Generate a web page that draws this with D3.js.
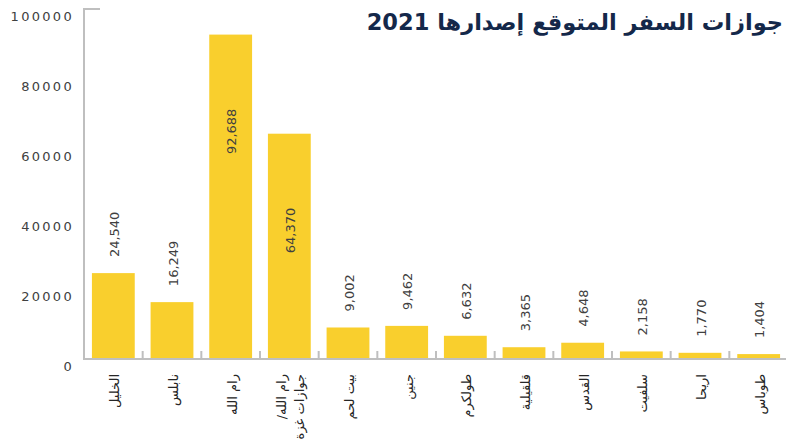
<!DOCTYPE html>
<html>
<meta charset="utf-8">
<head>
  <title>جوازات السفر المتوقع إصدارها 2021</title>
</head>
<style>
body { margin: 0; background: #fff; }
svg { display: block; }
.axis-line { stroke: #bfbfbf; stroke-width: 2px; fill: none; }
.ytick { font: 13px "DejaVu Sans", sans-serif; fill: #404040; letter-spacing: 2.3px; }
.val { font: 13px "DejaVu Sans", sans-serif; fill: #404040; }
.cat { font: 13px "DejaVu Sans", sans-serif; fill: #262626; }
.title { font: bold 22.5px "DejaVu Sans", sans-serif; fill: #14284a; }
</style>
<body>
<script src="https://cdnjs.cloudflare.com/ajax/libs/d3/7.8.5/d3.min.js"></script>
<script>

var categories = ["الخليل", "نابلس", "رام الله", "رام الله/\u200F|جوازات غزة", "بيت لحم", "جنين",
                  "طولكرم", "قلقيلية", "القدس", "سلفيت", "اريحا", "طوباس"];
var values = [24540, 16249, 92688, 64370, 9002, 9462, 6632, 3365, 4648, 2158, 1770, 1404];
var yTicks = [0, 20000, 40000, 60000, 80000, 100000];
var title = "جوازات السفر المتوقع إصدارها 2021";

var width = 786, height = 441;

var svg = d3.select("body").append("svg")
    .attr("width", width)
    .attr("height", height);

var x = d3.scaleBand()
    .domain(categories)
    .range([84, 788])
    .paddingInner(0.27)
    .paddingOuter(0.135);

var y = d3.scaleLinear()
    .domain([0, 100000])
    .range([359, 9]);

// bars
svg.append("g").selectAll("rect")
  .data(values)
  .enter().append("rect")
    .attr("x", function(d, i) { return x(categories[i]); })
    .attr("y", function(d) { return y(d); })
    .attr("width", x.bandwidth())
    .attr("height", function(d) { return y(0) - y(d); })
    .attr("fill", "#f9cf2d");

// axes
svg.append("path").attr("class", "axis-line")
    .attr("d", "M100," + y(100000) + "H84V" + y(0) + "H" + width);

var bounds = categories.map(function(c) { return x(c) - x.step() * x.paddingInner() / 2; });
svg.append("g").selectAll("line")
  .data(bounds.slice(1))
  .enter().append("line")
    .attr("class", "axis-line")
    .attr("x1", function(d) { return d; })
    .attr("x2", function(d) { return d; })
    .attr("y1", y(0) - 8)
    .attr("y2", y(0));

svg.append("g").selectAll("text")
  .data(yTicks)
  .enter().append("text")
    .attr("class", "ytick")
    .attr("x", 74)
    .attr("y", function(d) { return y(d) + 7; })
    .attr("dy", "0.35em")
    .attr("text-anchor", "end")
    .text(function(d) { return d; });

// value labels
var fmt = d3.format(",");
svg.append("g").selectAll("text")
  .data(values)
  .enter().append("text")
    .attr("class", "val")
    .attr("transform", function(d, i) {
      var cx = x(categories[i]) + x.bandwidth() / 2 + 1;
      var ty = d > 50000 ? y(d) + 74 : y(d) - 16;
      return "translate(" + cx + "," + ty + ") rotate(-90)";
    })
    .attr("text-anchor", function(d) { return d > 50000 ? "end" : "start"; })
    .attr("dy", "0.35em")
    .text(function(d) { return fmt(d); });

// category labels
var cat = svg.append("g").selectAll("text")
  .data(categories)
  .enter().append("text")
    .attr("class", "cat")
    .attr("transform", function(d) {
      return "translate(" + (x(d) + x.bandwidth() / 2) + ",374) rotate(-90)";
    })
    .attr("text-anchor", "end");

cat.each(function(d) {
  var lines = d.split("|");
  var t = d3.select(this);
  lines.forEach(function(l, j) {
    t.append("tspan")
      .attr("x", 0)
      .attr("y", 0)
      .attr("dy", (0.45 + (j - (lines.length - 1) / 2) * 1.4) + "em")
      .text(l);
  });
});

svg.append("text")
    .attr("class", "title")
    .attr("x", 783)
    .attr("y", 30)
    .attr("text-anchor", "end")
    .text(title);

</script>
</body>
</html>
